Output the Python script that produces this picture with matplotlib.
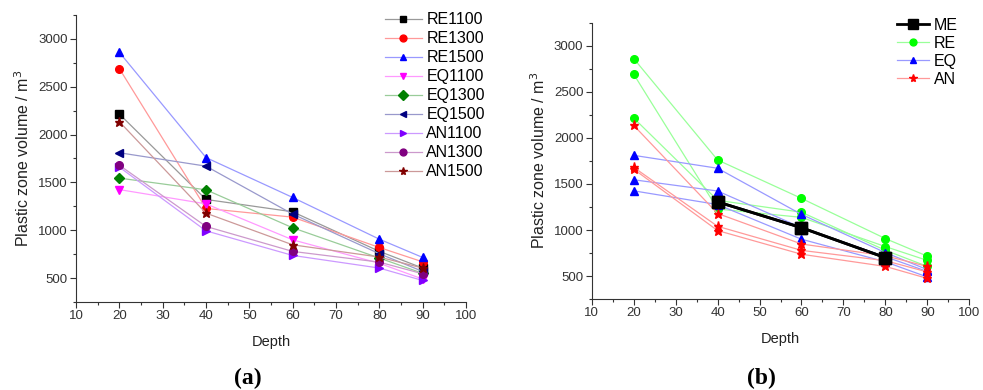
import matplotlib.pyplot as plt
from matplotlib.ticker import MultipleLocator
from matplotlib.colors import to_rgb

plt.rcParams['font.family'] = ['Liberation Sans', 'DejaVu Sans']

depth = [20, 40, 60, 80, 90]

re1100 = [2215, 1322, 1193, 780, 605]
re1300 = [2690, 1228, 1137, 820, 670]
re1500 = [2860, 1760, 1343, 907, 716]
eq1100 = [1425, 1276, 900, 655, 490]
eq1300 = [1545, 1423, 1026, 710, 550]
eq1500 = [1810, 1670, 1169, 755, 570]
an1100 = [1660, 994, 737, 605, 475]
an1300 = [1680, 1040, 779, 667, 545]
an1500 = [2135, 1179, 848, 720, 605]

me_depth = [40, 60, 80]
me = [1305, 1025, 700]

names = ['RE1100', 'RE1300', 'RE1500', 'EQ1100', 'EQ1300', 'EQ1500',
         'AN1100', 'AN1300', 'AN1500']
series = [re1100, re1300, re1500, eq1100, eq1300, eq1500, an1100, an1300, an1500]
colors = ['#000000', '#ff0000', '#0000ff', '#ff00ff', '#008000', '#000080',
          '#8000ff', '#800080', '#800000']
markers = ['s', 'o', '^', 'v', 'D', '<', '>', 'o', '*']


def light(c, a=0.4):
    # blend colour with white, lines are paler than markers
    r, g, b = to_rgb(c)
    return (r * a + (1 - a), g * a + (1 - a), b * a + (1 - a))


def style_axes(ax):
    ax.spines['top'].set_visible(False)
    ax.spines['right'].set_visible(False)
    ax.set_xlim(10, 100)
    ax.set_ylim(250, 3250)
    ax.xaxis.set_major_locator(MultipleLocator(10))
    ax.xaxis.set_minor_locator(MultipleLocator(5))
    ax.yaxis.set_minor_locator(MultipleLocator(250))
    ax.set_yticks([500, 1000, 1500, 2000, 2500, 3000])
    ax.tick_params(which='major', direction='out', length=4, width=0.8,
                   labelsize=9.5, colors='#333333', labelcolor='#333333', pad=2)
    ax.tick_params(which='minor', direction='out', length=2, width=0.8, colors='#333333')
    for s in ['left', 'bottom']:
        ax.spines[s].set_color('#333333')
    ax.set_xlabel('Depth', fontsize=10.5, labelpad=9, color='#222222')
    ax.set_ylabel('Plastic zone volume / m$^3$', fontsize=11.5, labelpad=4,
                  color='#222222')


fig = plt.figure(figsize=(9.83, 3.9), dpi=100)
ax1 = fig.add_axes([0.0773, 0.2256, 0.3967, 0.736])
ax2 = fig.add_axes([0.602, 0.233, 0.384, 0.709])

for name, ys, c, m in zip(names, series, colors, markers):
    ms = 6.5 if m == '*' else 5.5
    ax1.plot(depth, ys, color=light(c), lw=0.9, marker=m, ms=ms,
             mfc=c, mec=c, label=name)
style_axes(ax1)
fig.legend(*ax1.get_legend_handles_labels(), loc='upper left',
           bbox_to_anchor=(0.385, 0.985), frameon=False, fontsize=11.5,
           handlelength=2.3, handletextpad=0.3, labelspacing=0.25,
           borderaxespad=0, markerscale=0.9)

groups = [('RE', [re1100, re1300, re1500], '#00ff00', 'o'),
          ('EQ', [eq1100, eq1300, eq1500], '#0000ff', '^'),
          ('AN', [an1100, an1300, an1500], '#ff0000', '*')]

ax2.plot(me_depth, me, color='black', lw=2, marker='s', ms=8, mfc='black',
         mec='black', label='ME', zorder=5)
for gname, gs, c, m in groups:
    for i, ys in enumerate(gs):
        ax2.plot(depth, ys, color=light(c), lw=0.9, marker=m,
                 ms=6.5 if m == '*' else 5.5, mfc=c, mec=c,
                 label=gname if i == 0 else None)
ax2.plot(me_depth, me, color='black', lw=2, marker='s', ms=8, mfc='none',
         mec='black', zorder=6)
style_axes(ax2)
fig.legend(*ax2.get_legend_handles_labels(), loc='upper left',
           bbox_to_anchor=(0.906, 0.97), frameon=False, fontsize=11.5,
           handlelength=2.0, handletextpad=0.3, labelspacing=0.18,
           borderaxespad=0, markerscale=0.9)

fig.text(0.252, 0.015, '(a)', fontsize=17, fontweight='bold',
         family='Liberation Serif', ha='center')
fig.text(0.775, 0.015, '(b)', fontsize=17, fontweight='bold',
         family='Liberation Serif', ha='center')

fig.savefig('out.png', dpi=100)
